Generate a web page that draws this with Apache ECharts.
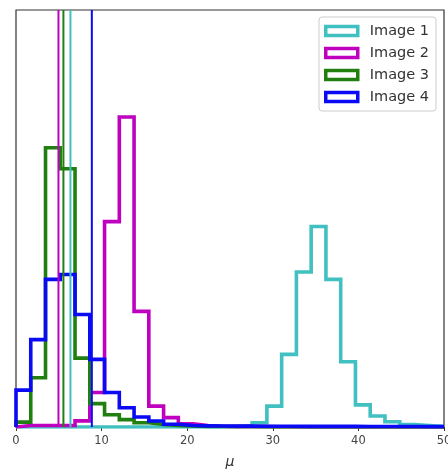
<!DOCTYPE html>
<html>
<head>
<meta charset="utf-8">
<script src="https://cdn.jsdelivr.net/npm/echarts@6/dist/echarts.min.js"></script>
<style>
  html, body { margin: 0; padding: 0; background: #fff; }
  #chart { width: 448px; height: 470px; }
</style>
</head>
<body>
<div id="chart"></div>
<script>
// Histogram bins shared by all images: 29 equal bins over [0, 50]
const binMin = 0;
const binMax = 50;
const binCount = 29;

const seriesNames = ['Image 1', 'Image 2', 'Image 3', 'Image 4'];
const seriesColors = ['#40c0c0', '#bf00bf', '#217f10', '#0a0af5'];

// Normalised bin heights (density) per image
const image1 = [0, 0, 0, 0, 0, 0, 0, 0, 0, 0, 0, 0, 0, 0,
  0.0004, 0.0012, 0.0035, 0.017, 0.059, 0.126, 0.163, 0.120, 0.053, 0.018, 0.009, 0.0043, 0.002, 0.0012, 0.0005];
const image2 = [0.0012, 0.0012, 0.0012, 0.0012, 0.005, 0.028, 0.167, 0.252, 0.094, 0.017, 0.0076, 0.0027,
  0.0012, 0.0006, 0.0003, 0.0003, 0.0003, 0.0002, 0.0001, 0, 0, 0, 0, 0, 0, 0, 0, 0, 0];
const image3 = [0.004, 0.040, 0.227, 0.210, 0.056, 0.019, 0.010, 0.006, 0.0035, 0.002, 0.0012, 0.0008,
  0.0005, 0.0004, 0.0003, 0.0002, 0.0001, 0, 0, 0, 0, 0, 0, 0, 0, 0, 0, 0, 0];
const image4 = [0.030, 0.071, 0.120, 0.124, 0.0915, 0.055, 0.028, 0.0157, 0.0081, 0.0049, 0.0022, 0.0012,
  0.0009, 0.0008, 0.0007, 0.0007, 0.0006, 0.0006, 0.0006, 0.0005, 0.0005, 0.0005, 0.0005, 0.0004,
  0.0004, 0.0004, 0.0004, 0.0003, 0.0003];

// Vertical reference value per image
const meanValues = [6.36, 4.96, 5.54, 8.86];

const xTicks = [0, 10, 20, 30, 40, 50];
const yMax = 0.339;

const histograms = [image1, image2, image3, image4];

// Outline of a step histogram: up the first edge, across each bin, down the last edge
function stepOutline(values) {
  const w = (binMax - binMin) / binCount;
  const pts = [[binMin, 0]];
  values.forEach((v, k) => {
    pts.push([binMin + k * w, v]);
    pts.push([binMin + (k + 1) * w, v]);
  });
  pts.push([binMax, 0]);
  return pts;
}

const series = [];
histograms.forEach((vals, i) => {
  series.push({
    name: seriesNames[i],
    type: 'line',
    data: stepOutline(vals),
    showSymbol: false,
    symbol: 'none',
    color: seriesColors[i],
    lineStyle: { color: seriesColors[i], width: 3.6, join: 'miter' },
    z: 2 + i,
    silent: true
  });
});
histograms.forEach((vals, i) => {
  series.push({
    name: seriesNames[i] + ' mean',
    type: 'line',
    data: [[meanValues[i], 0], [meanValues[i], yMax]],
    showSymbol: false,
    symbol: 'none',
    lineStyle: { color: seriesColors[i], width: 2 },
    z: 10 + i,
    silent: true
  });
});

const chart = echarts.init(document.getElementById('chart'), null, { renderer: 'canvas' });
chart.setOption({
  animation: false,
  backgroundColor: '#fff',
  grid: {
    left: 16, right: 4, top: 10, bottom: 43,
    containLabel: false,
    outerBoundsMode: 'none',
    show: true, borderColor: '#333', borderWidth: 1.2, backgroundColor: 'transparent'
  },
  legend: {
    orient: 'vertical',
    left: 319,
    top: 17,
    padding: [6, 7, 6, 5],
    backgroundColor: 'rgba(255,255,255,0.85)',
    borderColor: '#cccccc',
    borderWidth: 1,
    borderRadius: 3,
    itemWidth: 32,
    itemHeight: 9,
    itemGap: 6,
    textStyle: {
      fontFamily: 'DejaVu Sans', fontSize: 14.5, color: '#333',
      lineHeight: 16, padding: [0, 0, 0, 7]
    },
    data: seriesNames.map((n, i) => ({
      name: n,
      icon: 'rect',
      itemStyle: { color: '#fff', borderColor: seriesColors[i], borderWidth: 3.5 }
    }))
  },
  xAxis: {
    type: 'value',
    min: 0, max: 50, interval: 10,
    name: 'μ',
    nameLocation: 'middle',
    nameGap: 28,
    nameTextStyle: { fontFamily: 'DejaVu Sans', fontStyle: 'italic', fontSize: 14, color: '#333' },
    axisLine: { show: true, lineStyle: { color: '#333', width: 1.2 } },
    axisTick: { show: true, inside: false, length: 4, lineStyle: { color: '#333', width: 1 } },
    axisLabel: {
      margin: 8, fontFamily: 'DejaVu Sans', fontSize: 11.5, color: '#444',
      formatter: v => xTicks.includes(v) ? String(v) : ''
    },
    splitLine: { show: false }
  },
  yAxis: {
    type: 'value',
    min: 0, max: yMax,
    axisLine: { show: false },
    axisTick: { show: false },
    axisLabel: { show: false },
    splitLine: { show: false }
  },
  series: series
});
</script>
</body>
</html>
